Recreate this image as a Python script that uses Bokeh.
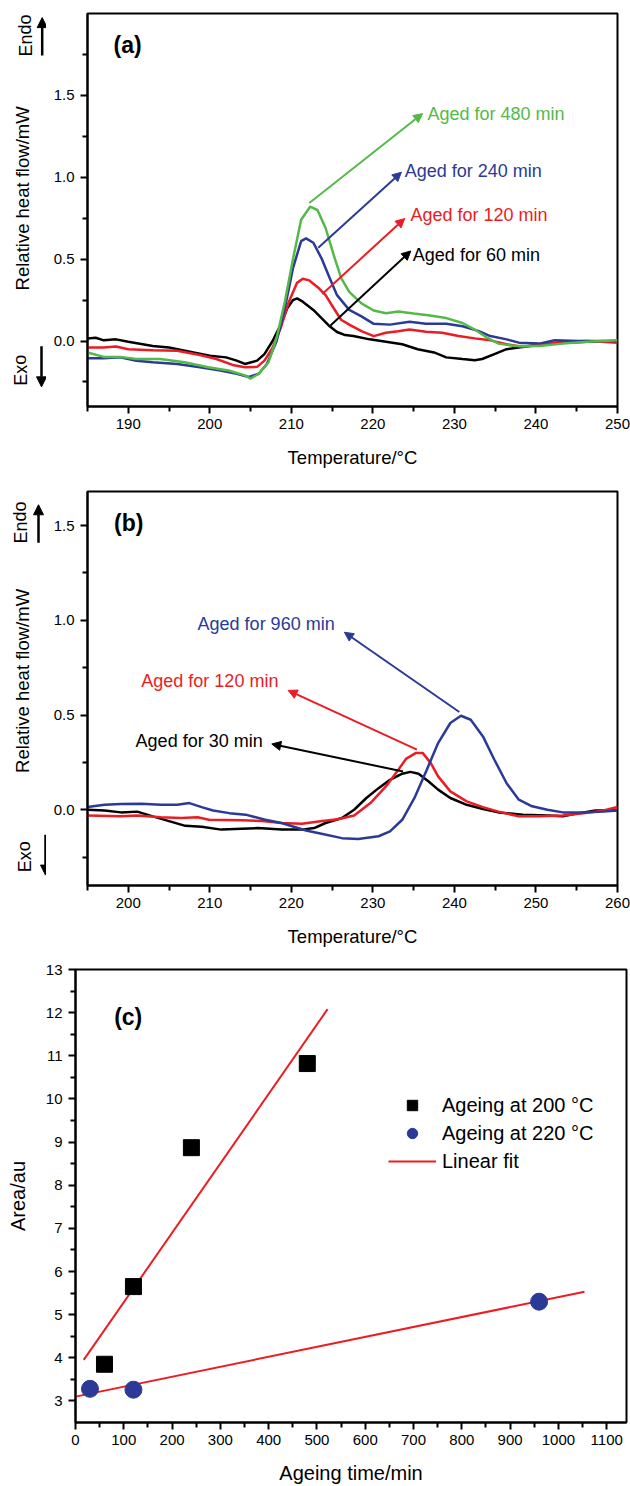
from bokeh.plotting import figure
from bokeh.layouts import column, row
from bokeh.models import (Range1d, FixedTicker, Label, Arrow, NormalHead, Legend, LegendItem,
                          CustomJSTickFormatter)
from bokeh.embed import file_html
from bokeh.resources import INLINE

FONT = "Liberation Sans"
BLACK = "#000000"
RED = "#EC1C24"
BLUE = "#2B3A97"
GREEN = "#55B94A"

# ---------------- Panel (a): ageing at 200 C ----------------
a60_t = [185, 186, 187, 188.5, 190, 193, 195, 198, 200, 202, 203.3, 204.3, 205.8, 206.7, 207.7, 208.7, 209.5,
         210.2, 210.7, 211.4, 212.7, 213.7, 214.7, 215.6, 216.6, 217.6, 219.6, 221.6, 223.6, 225.5, 227.5, 229,
         231, 232.5, 233.4, 234.9, 236.4, 237.9, 239.9, 243.3, 246.3, 250]
a60_v = [0.016, 0.02, 0.004, 0.01, -0.004, -0.03, -0.04, -0.07, -0.09, -0.10, -0.12, -0.14, -0.12, -0.08, 0.0,
         0.1, 0.2, 0.25, 0.26, 0.24, 0.19, 0.14, 0.09, 0.055, 0.036, 0.03, 0.01, -0.004, -0.02, -0.05, -0.07,
         -0.10, -0.11, -0.117, -0.11, -0.08, -0.05, -0.04, -0.025, -0.01, -0.004, 0.0]

a120_t = [185, 187, 188.5, 190, 193, 196, 198.8, 200.8, 202.8, 204.3, 205.8, 206.7, 207.7, 208.7, 209.7, 210.7,
          211.4, 212.2, 213.2, 214.2, 215.2, 216.1, 217.1, 218.6, 220.1, 221.6, 223.1, 224.5, 226.5, 228.5,
          230.5, 232.5, 234.4, 236.4, 238.4, 240.4, 243.3, 246.3, 250]
a120_v = [-0.04, -0.04, -0.034, -0.05, -0.057, -0.06, -0.085, -0.11, -0.146, -0.16, -0.158, -0.12, -0.04, 0.08,
          0.24, 0.355, 0.38, 0.37, 0.33, 0.28, 0.2, 0.13, 0.10, 0.06, 0.03, 0.05, 0.06, 0.07, 0.057, 0.05, 0.03,
          0.016, 0.004, -0.02, -0.036, -0.024, -0.004, 0.0, -0.01]

a240_t = [185, 187, 189, 191, 193, 196, 198.8, 201.3, 203.3, 204.8, 206, 207, 208.2, 209.2, 210.2, 211.2, 211.8,
          212.7, 213.7, 214.7, 215.6, 217.1, 218.6, 220.1, 222.1, 224.5, 226.5, 229, 231, 233, 234.4, 236.4,
          237.9, 240.4, 242.3, 245.3, 250]
a240_v = [-0.105, -0.105, -0.1, -0.12, -0.13, -0.14, -0.16, -0.18, -0.2, -0.22, -0.2, -0.14, 0.0, 0.2, 0.445,
          0.61, 0.627, 0.6, 0.505, 0.385, 0.28, 0.19, 0.15, 0.105, 0.1, 0.117, 0.105, 0.105, 0.09, 0.06, 0.03,
          0.01, -0.01, -0.016, 0.004, 0.0, 0.0]

a480_t = [185, 187, 189, 191, 193.9, 196.9, 199.8, 202.3, 204.3, 205, 206, 207.2, 208.2, 209.2, 210.2, 211.2,
          212.3, 213.2, 214.2, 215.2, 216.1, 217.1, 218.6, 220.1, 221.6, 223.1, 225, 227, 229, 231, 232.5, 234,
          235.4, 237.4, 240.4, 243.3, 246.3, 250]
a480_v = [-0.07, -0.097, -0.097, -0.11, -0.11, -0.13, -0.16, -0.18, -0.21, -0.23, -0.2, -0.13, 0.02, 0.24, 0.5,
          0.74, 0.82, 0.8, 0.69, 0.525, 0.385, 0.3, 0.23, 0.186, 0.17, 0.18, 0.168, 0.156, 0.14, 0.11, 0.07,
          0.02, -0.016, -0.03, -0.03, -0.016, -0.004, 0.004]

a_labels = ["Aged for 60 min", "Aged for 120 min", "Aged for 240 min", "Aged for 480 min"]

# ---------------- Panel (b): ageing at 220 C ----------------
b30_t = [195, 197.1, 199.1, 201.1, 203, 205, 207, 209, 211.4, 213.9, 215.9, 218.8, 221.3, 222.8, 224.2, 226.2,
         227.7, 229.2, 230.7, 232.1, 233.6, 234.6, 235.6, 236.8, 238, 239.5, 241.5, 243.5, 245.4, 248.4, 251.4,
         253.3, 255.3, 257.3, 260]
b30_v = [0.0, -0.004, -0.014, -0.01, -0.035, -0.06, -0.085, -0.09, -0.105, -0.1, -0.097, -0.105, -0.105, -0.097,
         -0.07, -0.044, 0.0, 0.062, 0.114, 0.158, 0.19, 0.2, 0.19, 0.15, 0.106, 0.062, 0.026, 0.004, -0.014,
         -0.026, -0.03, -0.035, -0.018, -0.004, -0.004]

b120_t = [195, 199.1, 201.1, 204, 206.5, 208.5, 209.9, 213.9, 216.4, 218.8, 221.3, 223.8, 225.7, 227.7, 229.7,
          231.6, 233.1, 234.1, 235.3, 236.1, 237.1, 238, 239.5, 241.5, 243.5, 245.4, 247.9, 250.4, 253.3, 255.8,
          258.3, 260]
b120_v = [-0.03, -0.035, -0.03, -0.04, -0.044, -0.04, -0.053, -0.056, -0.06, -0.07, -0.074, -0.06, -0.05, -0.03,
          0.035, 0.123, 0.21, 0.27, 0.3, 0.3, 0.246, 0.176, 0.097, 0.044, 0.014, -0.01, -0.035, -0.035, -0.03,
          -0.018, -0.004, 0.014]

b960_t = [195, 197.1, 199.1, 201.6, 204, 206, 207.5, 209, 210.4, 212.4, 214.4, 216.8, 218.8, 221.8, 223.7, 226.2,
          228.2, 230.7, 232.1, 233.6, 235.1, 236.6, 238, 239.5, 240.8, 242, 243.5, 244.9, 246.4, 247.9, 249.4,
          251.4, 253.3, 255.8, 258.3, 260]
b960_v = [0.014, 0.026, 0.03, 0.032, 0.026, 0.026, 0.035, 0.014, -0.004, -0.018, -0.026, -0.053, -0.07, -0.11,
          -0.127, -0.15, -0.155, -0.14, -0.114, -0.053, 0.062, 0.21, 0.352, 0.458, 0.496, 0.475, 0.387, 0.264,
          0.14, 0.053, 0.02, 0.0, -0.014, -0.014, -0.01, -0.004]

b_labels = ["Aged for 30 min", "Aged for 120 min", "Aged for 960 min"]

# ---------------- Panel (c): peak area vs ageing time ----------------
c200_time = [60, 120, 240, 480]
c200_area = [3.85, 5.65, 8.87, 10.82]
c220_time = [30, 120, 960]
c220_area = [3.28, 3.26, 5.30]
fit200_time = [17, 522]
fit200_area = [3.95, 12.08]
fit220_time = [0, 1054]
fit220_area = [3.10, 5.53]
c_legend = ["Ageing at 200 \u00b0C", "Ageing at 220 \u00b0C", "Linear fit"]

SIDE_W = 46


def style_axes(p):
    p.grid.visible = False
    p.outline_line_color = "black"
    p.outline_line_width = 2
    p.outline_line_alpha = 1
    p.background_fill_color = "white"
    p.border_fill_color = "white"
    for ax in p.axis:
        ax.axis_line_width = 2
        ax.major_tick_line_width = 2
        ax.minor_tick_line_width = 2
        ax.major_tick_out = 7
        ax.major_tick_in = 0
        ax.minor_tick_out = 5
        ax.minor_tick_in = 0
        ax.major_label_text_font = FONT
        ax.major_label_text_font_size = "15px"
        ax.major_label_text_color = "black"
        ax.axis_label_text_font = FONT
        ax.axis_label_text_font_style = "normal"
        ax.axis_label_text_color = "black"


def make_fig(width, height, bt, bb, bl, br, xr, yr):
    p = figure(width=width, height=height, x_range=xr, y_range=yr,
               output_backend="svg", toolbar_location=None,
               min_border_top=bt, min_border_bottom=bb, min_border_left=bl, min_border_right=br)
    style_axes(p)
    return p


def make_side(height, bt, bb, yr):
    s = figure(width=SIDE_W, height=height, x_range=Range1d(0, SIDE_W), y_range=yr,
               x_axis_type=None, y_axis_type=None, output_backend="svg", toolbar_location=None,
               min_border_top=bt, min_border_bottom=bb, min_border_left=0, min_border_right=0)
    s.outline_line_color = None
    s.grid.visible = False
    s.background_fill_color = "white"
    s.border_fill_color = "white"
    return s


def side_marks(s, title_y, endo_x, endo_y, endo_ax, endo_y0, endo_y1,
               exo_x, exo_y, exo_ax, exo_y0, exo_y1):
    s.add_layout(Label(x=22, y=title_y, text="Relative heat flow/mW", angle=1.5708, text_align="center",
                       text_baseline="middle", text_font=FONT, text_font_size="18.5px", text_color="black"))
    s.add_layout(Label(x=endo_x, y=endo_y, text="Endo", angle=1.5708, text_align="center",
                       text_baseline="middle", text_font=FONT, text_font_size="18px", text_color="black"))
    s.add_layout(Label(x=exo_x, y=exo_y, text="Exo", angle=1.5708, text_align="center",
                       text_baseline="middle", text_font=FONT, text_font_size="18px", text_color="black"))
    s.add_layout(Arrow(end=NormalHead(size=10, fill_color="black", line_color="black"),
                       x_start=endo_ax, y_start=endo_y0, x_end=endo_ax, y_end=endo_y1,
                       line_color="black", line_width=2.5))
    s.add_layout(Arrow(end=NormalHead(size=10, fill_color="black", line_color="black"),
                       x_start=exo_ax, y_start=exo_y0, x_end=exo_ax, y_end=exo_y1,
                       line_color="black", line_width=2.5))


def note(p, x0, y0, x1, y1, tx, ty, text, color):
    p.add_layout(Arrow(end=NormalHead(size=9, fill_color=color, line_color=color),
                       x_start=x0, y_start=y0, x_end=x1, y_end=y1, line_color=color, line_width=2))
    p.add_layout(Label(x=tx, y=ty, text=text, text_align="left", text_baseline="middle",
                       text_font=FONT, text_font_size="18px", text_color=color))


def dsc_axes(p, xticks, xminor, yminor):
    p.xaxis.ticker = FixedTicker(ticks=xticks, minor_ticks=xminor)
    p.yaxis.ticker = FixedTicker(ticks=[0.0, 0.5, 1.0, 1.5], minor_ticks=yminor)
    p.yaxis.formatter = CustomJSTickFormatter(code="return tick.toFixed(1);")
    p.xaxis.axis_label = "Temperature/\u00b0C"
    p.xaxis.axis_label_text_font_size = "18.5px"
    p.xaxis.major_label_standoff = 5
    p.xaxis.axis_label_standoff = 15
    p.yaxis.major_label_standoff = 6


MAIN_W = 630 - SIDE_W

# ---------- figure (a) ----------
ya = Range1d(-0.4, 2.0)
pa = make_fig(MAIN_W, 478, 13, 72, 41, 13, Range1d(185, 250), ya)
dsc_axes(pa, [190, 200, 210, 220, 230, 240, 250], [185, 195, 205, 215, 225, 235, 245],
         [-0.25, 0.25, 0.75, 1.25, 1.75])
pa.line(a60_t, a60_v, line_color=BLACK, line_width=2.5)
pa.line(a120_t, a120_v, line_color=RED, line_width=2.5)
pa.line(a240_t, a240_v, line_color=BLUE, line_width=2.5)
pa.line(a480_t, a480_v, line_color=GREEN, line_width=2.5)
note(pa, 212.2, 0.843, 226.1, 1.389, 226.7, 1.389, a_labels[3], GREEN)
note(pa, 213.3, 0.57, 223.5, 1.031, 223.9, 1.041, a_labels[2], BLUE)
note(pa, 213.8, 0.287, 223.9, 0.748, 224.6, 0.768, a_labels[1], RED)
note(pa, 214.8, 0.095, 224.65, 0.55, 224.9, 0.524, a_labels[0], BLACK)
pa.add_layout(Label(x=188.2, y=1.81, text="(a)", text_align="left", text_baseline="middle",
                    text_font=FONT, text_font_size="23px", text_font_style="bold", text_color="black"))
sa = make_side(478, 13, 72, ya)
side_marks(sa, 0.871, 25, 1.866, 41.7, 1.744, 1.975, 20, -0.178, 41, -0.032, -0.28)

# ---------- figure (b) ----------
yb = Range1d(-0.4, 1.68)
pb = make_fig(MAIN_W, 476, 13, 69, 41, 13, Range1d(195, 260), yb)
dsc_axes(pb, [200, 210, 220, 230, 240, 250, 260], [195, 205, 215, 225, 235, 245, 255],
         [-0.25, 0.25, 0.75, 1.25])
pb.line(b30_t, b30_v, line_color=BLACK, line_width=2.5)
pb.line(b120_t, b120_v, line_color=RED, line_width=2.5)
pb.line(b960_t, b960_v, line_color=BLUE, line_width=2.5)
note(pb, 240.6, 0.516, 226.5, 0.937, 208.5, 0.981, b_labels[2], BLUE)
note(pb, 235.4, 0.317, 219.6, 0.63, 201.6, 0.681, b_labels[1], RED)
note(pb, 233.7, 0.202, 217.6, 0.347, 200.9, 0.361, b_labels[0], BLACK)
pb.add_layout(Label(x=198.25, y=1.514, text="(b)", text_align="left", text_baseline="middle",
                    text_font=FONT, text_font_size="23px", text_font_style="bold", text_color="black"))
sb = make_side(476, 13, 69, yb)
side_marks(sb, 0.68, 20, 1.516, 38, 1.41, 1.61, 24, -0.248, 45, -0.132, -0.345)

# ---------- figure (c) ----------
pc = make_fig(630, 532, 15, 63, 75, 4, Range1d(0, 1141), Range1d(2.5, 13))
pc.xaxis.ticker = FixedTicker(ticks=[0, 100, 200, 300, 400, 500, 600, 700, 800, 900, 1000, 1100],
                              minor_ticks=[50, 150, 250, 350, 450, 550, 650, 750, 850, 950, 1050])
pc.yaxis.ticker = FixedTicker(ticks=[3, 4, 5, 6, 7, 8, 9, 10, 11, 12, 13],
                              minor_ticks=[3.5, 4.5, 5.5, 6.5, 7.5, 8.5, 9.5, 10.5, 11.5, 12.5])
pc.xaxis.axis_label = "Ageing time/min"
pc.yaxis.axis_label = "Area/au"
pc.xaxis.axis_label_text_font_size = "20px"
pc.yaxis.axis_label_text_font_size = "20px"
pc.xaxis.major_label_standoff = 5
pc.xaxis.axis_label_standoff = 14
pc.yaxis.major_label_standoff = 6
pc.yaxis.axis_label_standoff = 14

r_fit1 = pc.line(fit200_time, fit200_area, line_color=RED, line_width=2)
r_fit2 = pc.line(fit220_time, fit220_area, line_color=RED, line_width=2)
r_sq = pc.scatter(c200_time, c200_area, marker="square", size=16, fill_color=BLACK, line_color=BLACK)
r_ci = pc.scatter(c220_time, c220_area, marker="circle", size=17, fill_color=BLUE, line_color=BLUE)
pc.add_layout(Label(x=80, y=11.89, text="(c)", text_align="left", text_baseline="middle",
                    text_font=FONT, text_font_size="23px", text_font_style="bold", text_color="black"))

leg = Legend(items=[LegendItem(label=c_legend[0], renderers=[r_sq]),
                    LegendItem(label=c_legend[1], renderers=[r_ci]),
                    LegendItem(label=c_legend[2], renderers=[r_fit1])],
             location=(313, 248), border_line_color=None, background_fill_alpha=0,
             label_text_font=FONT, label_text_font_size="20px", label_text_color="black",
             glyph_width=48, glyph_height=26, label_height=26, spacing=2, padding=0, margin=0,
             label_standoff=6)
pc.add_layout(leg)

layout = column(row(sa, pa, spacing=0), row(sb, pb, spacing=0), pc, spacing=0)
open("out.html", "w").write(file_html(layout, INLINE))
